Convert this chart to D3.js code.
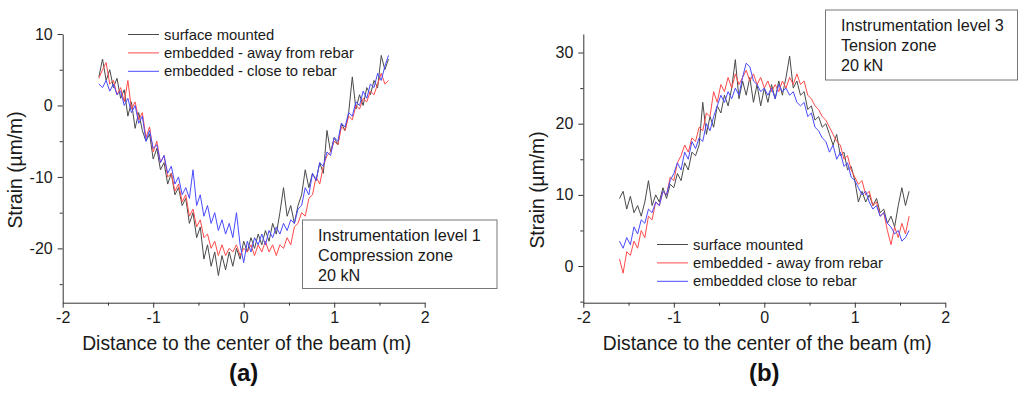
<!DOCTYPE html>
<html>
<head>
<meta charset="utf-8">
<script src="https://cdn.jsdelivr.net/npm/d3@7"></script>
<style>
  body { margin: 0; padding: 0; background: #fff; }
  svg { display: block; font-family: "Liberation Sans", Arial, sans-serif; }
  .tick text { fill: #1a1a1a; }
  .domain, .tick line { stroke: #333; }
</style>
</head>
<body>
<svg id="chart" width="1024" height="393"></svg>
<script>
// x sampling: -1.6 m to 1.6 m every 0.04 m
var xStart = -1.6, xStep = 0.04;

// (a) level 1, compression zone
var aSurface = [4.0,6.5,3.5,5.0,2.5,3.8,1.0,2.2,-1.5,0.5,-3.2,-1.0,-3.5,-5.0,-4.0,-7.5,-6.0,-9.0,-8.0,-11.0,
  -9.5,-12.5,-11.5,-14.0,-13.0,-16.5,-15.0,-18.5,-17.0,-21.5,-19.5,-22.5,-20.5,-23.8,-21.0,-23.0,-20.5,-22.5,-20.0,-21.5,
  -19.0,-20.5,-18.5,-20.0,-18.0,-19.5,-17.5,-19.0,-16.5,-18.0,-15.0,-11.5,-15.5,-14.0,-16.5,-14.0,-12.5,-9.0,-11.5,-9.5,
  -10.5,-8.0,-9.5,-3.5,-6.5,-4.5,-5.5,-2.5,-3.5,-1.0,4.0,-0.5,1.5,0.0,2.5,1.5,3.5,2.5,7.0,5.0,6.5];
var aAway = [3.8,5.0,6.0,3.0,3.5,1.5,2.5,0.5,3.5,-0.5,0.5,-2.0,-1.0,-4.5,-3.0,-6.5,-5.0,-8.0,-7.0,-10.0,
  -9.5,-12.0,-11.0,-13.5,-12.5,-15.5,-14.5,-17.0,-16.0,-18.5,-18.0,-20.0,-19.0,-21.0,-19.5,-21.0,-20.0,-20.5,-19.5,-21.0,
  -20.0,-20.5,-19.5,-21.0,-19.5,-20.5,-19.0,-20.5,-19.5,-21.0,-19.5,-20.0,-18.5,-19.5,-17.0,-16.5,-15.0,-15.5,-13.0,-12.5,
  -10.0,-11.0,-8.5,-7.0,-6.5,-5.0,-5.5,-3.0,-3.5,-1.5,-2.0,0.0,-0.5,1.0,0.5,2.0,1.5,3.0,4.5,3.0,3.5];
var aClose = [3.0,2.5,3.5,2.0,3.0,1.5,2.0,0.0,1.0,-1.0,0.0,-2.5,-1.5,-5.0,-3.5,-6.0,-5.5,-8.0,-7.0,-9.5,
  -8.5,-11.0,-10.0,-12.5,-11.5,-13.0,-9.0,-14.0,-12.5,-15.5,-14.0,-16.5,-15.0,-17.5,-16.0,-18.0,-16.5,-18.5,-15.0,-19.5,
  -22.0,-19.0,-20.5,-18.5,-19.5,-18.0,-19.5,-17.5,-18.5,-17.0,-18.0,-16.5,-17.5,-16.0,-16.5,-14.5,-14.0,-11.5,-12.5,-9.5,
  -10.5,-8.0,-8.5,-6.5,-7.0,-4.5,-5.0,-2.5,-3.0,-1.0,-1.5,0.5,0.0,2.0,1.0,3.0,2.5,4.5,3.5,5.5,7.0];

// (b) level 3, tension zone
var bSurface = [9.5,10.5,8.0,9.8,7.5,8.5,7.0,9.0,12.0,8.5,10.0,9.0,11.0,9.5,11.5,11.0,13.0,12.0,14.5,13.5,
  16.0,15.5,17.0,23.0,18.5,21.0,19.5,22.5,21.5,24.0,22.5,25.0,29.0,23.5,26.0,24.0,26.5,23.0,25.5,22.5,
  25.0,23.0,25.5,23.5,26.0,24.0,26.5,29.5,25.0,26.0,24.0,24.5,22.0,22.5,20.5,21.0,19.5,20.0,18.5,17.0,
  18.5,15.5,16.0,13.5,14.0,12.0,9.0,10.5,9.0,10.0,8.5,9.5,7.5,8.0,6.0,7.0,5.5,8.5,11.0,8.5,10.5];
var bAway = [1.0,-1.0,2.0,1.5,3.5,2.5,5.0,4.0,7.0,6.5,9.0,8.5,10.5,10.0,12.5,12.0,14.5,15.5,17.0,16.0,
  18.0,17.5,19.5,19.0,21.5,21.0,24.5,23.0,25.5,24.5,26.5,25.0,27.0,25.5,26.5,27.5,26.0,27.0,25.5,26.5,
  25.0,26.0,24.5,25.5,24.5,26.0,25.0,26.5,25.5,27.0,25.5,26.0,24.0,23.5,22.5,22.0,21.0,20.5,19.5,18.5,
  17.5,17.0,15.0,15.5,13.5,12.5,11.5,12.0,10.0,10.5,8.5,9.0,7.0,7.5,5.0,3.0,5.5,4.0,6.0,4.5,7.0];
var bClose = [3.5,2.5,4.0,3.0,5.5,4.5,6.5,6.0,8.0,7.5,9.0,8.5,10.5,10.0,12.0,13.0,14.5,13.5,16.0,15.0,
  17.5,16.5,18.0,17.5,20.0,19.0,21.0,22.5,24.0,23.0,24.5,23.5,25.0,24.0,26.5,28.5,28.0,26.0,25.5,24.5,
  25.0,24.0,25.0,23.5,25.5,24.5,25.0,24.0,24.5,23.0,22.5,23.0,21.0,21.5,19.5,19.0,18.0,17.5,16.0,17.0,
  15.0,16.0,14.0,14.5,12.5,12.0,11.0,10.0,10.5,9.0,8.0,8.5,7.0,7.5,6.0,5.5,4.5,5.0,3.5,4.0,5.0];

var seriesNames = ["surface mounted", "embedded - away from rebar", "embedded - close to rebar"];
var seriesNamesB = ["surface mounted", "embedded - away from rebar", "embedded close to rebar"];
var seriesColors = ["#4a4a4a", "#ff4a4a", "#4a4aff"];

var xTicks = [-2, -1, 0, 1, 2];
var xMinor = [-1.5, -0.5, 0.5, 1.5];
var aYTicks = [-20, -10, 0, 10];
var aYMinor = [-25, -15, -5, 5];
var bYTicks = [0, 10, 20, 30];
var bYMinor = [-5, 5, 15, 25];

var aNote = ["Instrumentation level 1", "Compression zone", "20 kN"];
var bNote = ["Instrumentation level 3", "Tension zone", "20 kN"];

var svg = d3.select("#chart");
var fmt = function(d) { return String(d); }; // plain hyphen minus like the original

function drawPanel(opt) {
  var g = svg.append("g");
  var x = d3.scaleLinear().domain([-2, 2]).range([opt.left, opt.left + 362]);
  var y = d3.scaleLinear().domain(opt.yDomain).range([302.7, 34]);

  // axes: major ticks outward, minor ticks shorter
  g.append("g").attr("transform", "translate(0,302.7)")
    .call(d3.axisBottom(x).tickValues(xTicks).tickSize(5).tickSizeOuter(0).tickPadding(4).tickFormat(fmt));
  g.append("g").attr("transform", "translate(0,302.7)")
    .call(d3.axisBottom(x).tickValues(xMinor).tickSize(3).tickSizeOuter(0).tickFormat(""))
    .select(".domain").remove();
  g.append("g").attr("transform", "translate(" + opt.left + ",0)")
    .call(d3.axisLeft(y).tickValues(opt.yTicks).tickSize(5).tickSizeOuter(0).tickPadding(5).tickFormat(fmt));
  g.append("g").attr("transform", "translate(" + opt.left + ",0)")
    .call(d3.axisLeft(y).tickValues(opt.yMinor).tickSize(3).tickSizeOuter(0).tickFormat(""))
    .select(".domain").remove();
  g.selectAll(".tick text").style("font-size", "16px").style("font-family", "'Liberation Sans', Arial, sans-serif");

  // data lines
  var line = d3.line()
    .x(function(d, i) { return x(xStart + i * xStep); })
    .y(function(d) { return y(d); });
  opt.series.forEach(function(s, k) {
    g.append("path").datum(s)
      .attr("fill", "none")
      .attr("stroke", seriesColors[k])
      .attr("stroke-width", 1)
      .attr("stroke-linejoin", "round")
      .attr("d", line);
  });

  // legend
  opt.names.forEach(function(n, k) {
    var ly = opt.legendY + k * 18.4;
    g.append("line").attr("x1", opt.legendX).attr("x2", opt.legendX + 31)
      .attr("y1", ly).attr("y2", ly)
      .attr("stroke", seriesColors[k]).attr("stroke-width", 1);
    g.append("text").attr("x", opt.legendX + 36).attr("y", ly + 5)
      .attr("font-size", "14.8px").attr("fill", "#1a1a1a").text(n);
  });

  // note box
  g.append("rect").attr("x", opt.box[0]).attr("y", opt.box[1])
    .attr("width", opt.box[2]).attr("height", opt.box[3])
    .attr("fill", "#fff").attr("stroke", "#777").attr("stroke-width", 1);
  opt.note.forEach(function(t, k) {
    g.append("text").attr("x", opt.box[0] + 15.5).attr("y", opt.box[1] + 21 + k * 20)
      .attr("font-size", "16.2px").attr("fill", "#1a1a1a").text(t);
  });

  // titles
  g.append("text").attr("x", x(0) + 3).attr("y", 350)
    .attr("text-anchor", "middle").attr("font-size", "19.3px").attr("fill", "#1a1a1a")
    .text("Distance to the center of the beam (m)");
  g.append("text").attr("transform", "translate(" + opt.yLabelX + "," + opt.yLabelY + ") rotate(-90)")
    .attr("text-anchor", "middle").attr("font-size", "19.3px").attr("fill", "#1a1a1a")
    .text("Strain (\u00b5m/m)");
  g.append("text").attr("x", x(0)).attr("y", 381)
    .attr("text-anchor", "middle").attr("font-size", "24px").attr("font-weight", "bold").attr("fill", "#111")
    .text(opt.tag);
}

drawPanel({
  left: 62.7, yDomain: [-27.6, 10], yTicks: aYTicks, yMinor: aYMinor,
  series: [aSurface, aAway, aClose], names: seriesNames,
  legendX: 128, legendY: 34.5, box: [302.5, 220, 194.5, 68.5], note: aNote,
  yLabelX: 22, yLabelY: 170, tag: "(a)"
});
drawPanel({
  left: 583.3, yDomain: [-5.15, 32.6], yTicks: bYTicks, yMinor: bYMinor,
  series: [bSurface, bAway, bClose], names: seriesNamesB,
  legendX: 657, legendY: 244.5, box: [825.5, 10, 192, 70], note: bNote,
  yLabelX: 544, yLabelY: 190, tag: "(b)"
});
</script>
</body>
</html>
